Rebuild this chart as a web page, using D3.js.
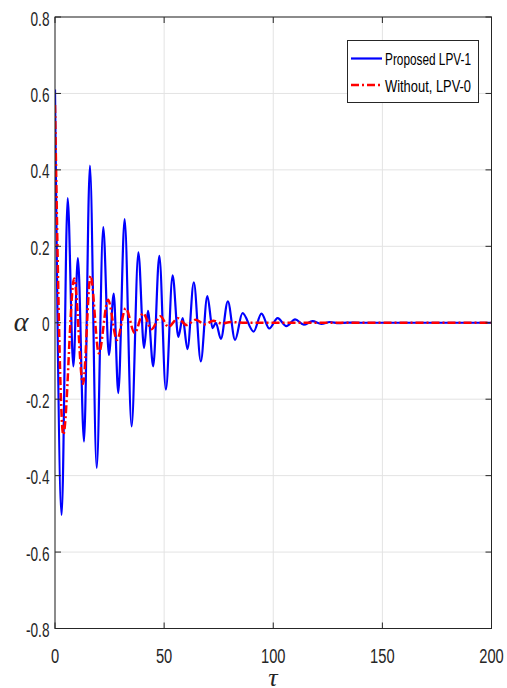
<!DOCTYPE html>
<html>
<head>
<meta charset="utf-8">
<script src="https://cdn.jsdelivr.net/npm/d3@7"></script>
<style>
  html, body { margin: 0; padding: 0; background: #fff; }
  svg { display: block; }
</style>
</head>
<body>
<svg id="chart" width="507" height="688"></svg>
<script>
// ---- data (extrema) ----
const blueTau = [0, 3.05, 5.8, 8.4, 10.5, 13.3, 16.0, 19.1, 22.1, 24.7, 26.9, 29.0, 31.9, 35.1, 38.2, 40.8, 42.6, 45.0, 47.8, 50.8, 53.9, 56.5, 58.5, 60.7, 63.6, 66.8, 69.8, 72.2, 73.7, 76.0, 79.2, 82.5, 85.9, 91.0, 94.6, 98.2, 102, 106, 110, 114, 118, 122, 126, 130, 134, 140, 200];
const blueAlpha = [0.61, -0.503, 0.326, -0.114, 0.169, -0.311, 0.411, -0.38, 0.25, -0.084, 0.076, -0.184, 0.271, -0.271, 0.184, -0.066, 0.031, -0.114, 0.175, -0.175, 0.124, -0.037, 0.012, -0.069, 0.106, -0.101, 0.07, -0.014, 0.0, -0.042, 0.056, -0.045, 0.025, -0.023, 0.024, -0.015, 0.012, -0.009, 0.009, -0.005, 0.004, -0.003, 0.002, -0.001, 0.0005, 0, 0];

const redTau = [0, 3.8, 8.8, 12.8, 16.3, 20.1, 24.3, 28.4, 32.4, 36.5, 40.4, 44.2, 48.3, 52.0, 56.3, 60.3, 64.5, 68.6, 72.5, 76.5, 80.5, 86, 200];
const redAlpha = [0.57, -0.293, 0.116, -0.16, 0.123, -0.08, 0.06, -0.045, 0.038, -0.027, 0.025, -0.017, 0.017, -0.011, 0.012, -0.006, 0.008, -0.004, 0.005, -0.002, 0.002, 0, 0];

const xTicks = [0, 50, 100, 150, 200];
const xTickLabels = ["0", "50", "100", "150", "200"];
const yTicks = [-0.8, -0.6, -0.4, -0.2, 0, 0.2, 0.4, 0.6, 0.8];
const yTickLabels = ["-0.8", "-0.6", "-0.4", "-0.2", "0", "0.2", "0.4", "0.6", "0.8"];
const seriesNames = ["Proposed LPV-1", "Without, LPV-0"];

// ---- layout ----
const L = 55, R = 491.5, T = 17, B = 628.5;
const axisColor = "#262626";
const svg = d3.select("#chart");

const x = d3.scaleLinear().domain([0, 200]).range([L, R]);
const y = d3.scaleLinear().domain([-0.8, 0.8]).range([B, T]);

// grid
const grid = svg.append("g");
grid.selectAll("line.gx").data(xTicks).enter().append("line")
  .attr("x1", d => x(d)).attr("x2", d => x(d)).attr("y1", T).attr("y2", B)
  .attr("stroke", "#e3e3e3").attr("stroke-width", 1);
grid.selectAll("line.gy").data(yTicks).enter().append("line")
  .attr("x1", L).attr("x2", R).attr("y1", d => y(d)).attr("y2", d => y(d))
  .attr("stroke", "#e3e3e3").attr("stroke-width", 1);

// clip
svg.append("clipPath").attr("id", "clip").append("rect")
  .attr("x", L).attr("y", T).attr("width", R - L).attr("height", B - T);

const line = d3.line().x(d => x(d[0])).y(d => y(d[1])).curve(d3.curveMonotoneX);
const blue = blueTau.map((t, i) => [t, blueAlpha[i]]);
const red = redTau.map((t, i) => [t, redAlpha[i]]);

const plot = svg.append("g").attr("clip-path", "url(#clip)");
plot.append("path").datum(blue).attr("d", line)
  .attr("fill", "none").attr("stroke", "#0000ff").attr("stroke-width", 2.2)
  .attr("stroke-linejoin", "round");
plot.append("path").datum(red).attr("d", line)
  .attr("fill", "none").attr("stroke", "#ff0000").attr("stroke-width", 2.5)
  .attr("stroke-dasharray", "8,3,2,3");

// box
svg.append("rect").attr("x", L).attr("y", T).attr("width", R - L).attr("height", B - T)
  .attr("fill", "none").attr("stroke", axisColor).attr("stroke-width", 1);

// ticks
const tl = 6;
const ticks = svg.append("g").attr("stroke", axisColor).attr("stroke-width", 1);
xTicks.forEach(d => {
  ticks.append("line").attr("x1", x(d)).attr("x2", x(d)).attr("y1", B).attr("y2", B - tl);
  ticks.append("line").attr("x1", x(d)).attr("x2", x(d)).attr("y1", T).attr("y2", T + tl);
});
yTicks.forEach(d => {
  ticks.append("line").attr("x1", L).attr("x2", L + tl).attr("y1", y(d)).attr("y2", y(d));
  ticks.append("line").attr("x1", R).attr("x2", R - tl).attr("y1", y(d)).attr("y2", y(d));
});

// tick labels (condensed look)
const font = "'Liberation Sans', Arial, sans-serif";
svg.append("g").selectAll("text").data(xTicks).enter().append("text")
  .attr("transform", d => `translate(${x(d)},${B + 34}) scale(0.7,1)`)
  .attr("text-anchor", "middle").attr("font-family", font).attr("font-size", 21)
  .attr("fill", axisColor).text((d, i) => xTickLabels[i]);
svg.append("g").selectAll("text").data(yTicks).enter().append("text")
  .attr("transform", d => `translate(49.5,${y(d) + 8.5}) scale(0.7,1)`)
  .attr("text-anchor", "end").attr("font-family", font).attr("font-size", 19.5)
  .attr("fill", axisColor).text((d, i) => yTickLabels[i]);

// axis labels
svg.append("text").attr("x", 273).attr("y", 686).attr("text-anchor", "middle")
  .attr("font-family", "'Liberation Serif', 'DejaVu Serif', serif").attr("font-style", "italic")
  .attr("font-size", 26).attr("fill", axisColor).text("τ");
svg.append("text").attr("x", 21).attr("y", 331).attr("text-anchor", "middle")
  .attr("font-family", "'Liberation Serif', 'DejaVu Serif', serif").attr("font-style", "italic")
  .attr("font-size", 28).attr("fill", axisColor).text("α");

// legend
const lg = svg.append("g");
lg.append("rect").attr("x", 347.5).attr("y", 40.5).attr("width", 131).attr("height", 62)
  .attr("fill", "#fff").attr("stroke", axisColor).attr("stroke-width", 1);
const rows = [
  { y: 58.5, color: "#0000ff", dash: null, w: 2.2 },
  { y: 85, color: "#ff0000", dash: "8,3,2,3", w: 2.5 }
];
rows.forEach((r, i) => {
  const l = lg.append("line").attr("x1", 351).attr("x2", 382).attr("y1", r.y).attr("y2", r.y)
    .attr("stroke", r.color).attr("stroke-width", r.w);
  if (r.dash) l.attr("stroke-dasharray", r.dash);
  lg.append("text").attr("x", 385).attr("y", r.y + 6.5)
    .attr("font-family", font).attr("font-size", 17).attr("fill", "#000")
    .attr("textLength", 86).attr("lengthAdjust", "spacingAndGlyphs")
    .text(seriesNames[i]);
});
</script>
</body>
</html>
